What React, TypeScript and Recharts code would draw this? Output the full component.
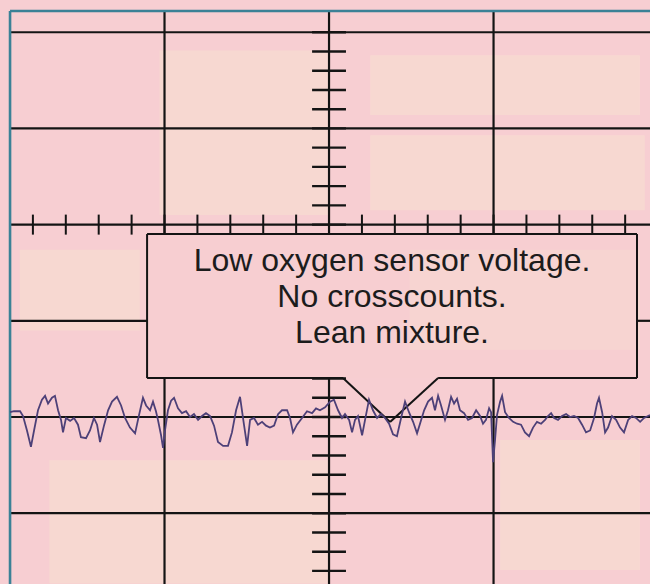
import { LineChart, Line, XAxis, YAxis, ReferenceLine, ReferenceArea } from 'recharts'

// scope trace, time in ms (100 per division), signal in mV (100 per division)
const time = [
  6.1, 8.5, 12.2, 14.0, 16.4, 18.8, 20.7, 23.1, 25.5, 27.4, 29.2, 31.6, 33.4, 35.3, 37.1, 38.3, 40.1, 42.6, 45.0, 47.4,
  49.2, 52.3, 54.7, 57.1, 59.0, 60.8, 63.2, 65.7, 68.1, 71.1, 73.6, 76.0, 79.0, 82.1, 84.5, 86.9, 88.8, 91.2, 93.0, 94.8,
  96.0, 97.9, 99.1, 100.3, 102.1, 104.0, 105.8, 108.2, 110.6, 113.1, 115.5, 117.9, 120.4, 122.8, 125.2, 127.7, 130.1, 132.5, 135.6, 138.6,
  141.0, 143.5, 145.9, 148.3, 150.2, 152.0, 154.4, 156.8, 159.3, 161.7, 164.1, 166.6, 169.0, 171.4, 174.5, 176.3, 178.1, 180.5, 183.6, 186.6,
  189.7, 192.1, 194.5, 197.6, 200.6, 203.0, 205.5, 207.9, 209.7, 212.2, 214.0, 215.8, 217.6, 220.1, 221.9, 224.3, 226.7, 229.2, 231.6, 234.0,
  236.5, 238.9, 241.3, 243.8, 246.2, 248.6, 251.1, 253.5, 255.3, 257.8, 260.2, 262.6, 264.4, 266.3, 268.1, 270.5, 272.3, 274.2, 276.0, 277.8,
  279.6, 282.1, 284.5, 286.9, 289.4, 291.8, 293.6, 295.4, 297.3, 298.5, 299.7, 300.9, 302.1, 304.0, 305.2, 307.0, 309.4, 311.9, 314.3, 316.7,
  319.1, 321.6, 324.0, 326.4, 328.9, 331.3, 333.1, 335.0, 336.8, 339.2, 341.6, 344.1, 346.5, 348.9, 351.4, 353.8, 356.2, 358.7, 361.1, 362.9,
  364.1, 366.0, 367.8, 369.6, 372.0, 374.5, 376.9, 379.3, 381.8, 384.2, 386.6, 389.1, 391.5, 393.9, 395.1,
]
const signal = [
  5, 6, 6, 1, -14, -31, -14, 7, 18, 22, 14, 20, 22, 7, -3, -16, -1, -4, -1, -8,
  -21, -22, -14, -1, -8, -26, -9, 7, 16, 21, 12, -1, -11, -17, 2, 20, 12, 7, 16, 6,
  -3, -19, -32, -14, 7, 17, 20, 9, 4, 6, 0, 3, -3, 1, 4, 1, -9, -26, -30, -30,
  -16, 7, 21, -8, -30, -3, -1, -8, -5, -9, -11, -9, 3, 7, 7, -1, -16, -8, -1, 6,
  4, 9, 7, 10, 16, 18, 7, -1, 3, -3, -16, -3, 1, -19, -3, 18, 7, -1, 3, -1,
  -7, -18, -20, -1, 16, 5, -5, -17, -7, 7, 16, 20, 7, 22, 12, -3, 7, 21, 14, 19,
  7, 4, -3, -1, 7, 1, -7, -3, 9, 5, -47, -24, 2, 16, 22, 5, -1, -5, -7, -8,
  -16, -20, -11, -5, -7, -3, 1, 4, -1, -3, 1, 3, 0, 1, -1, -8, -16, -14, -1, 14,
  20, 5, -16, -11, 1, -3, -11, -16, -3, 1, -1, -5, -1, 1, 2,
]

const gridTimes = [100, 200, 300]
const gridLevels = [-100, 0, 100, 200, 300, 400]
const minorTimes = [20, 40, 60, 80, 100, 120, 140, 160, 180, 200, 220, 240, 260, 280, 300, 320, 340, 360, 380]
const minorLevels = [-160, -140, -120, -100, -80, -60, -40, -20, 0, 20, 40, 60, 80, 100, 120, 140, 160, 180, 200, 220, 240, 260, 280, 300, 320, 340, 360, 380, 400]
const calloutLines = ['Low oxygen sensor voltage.', 'No crosscounts.', 'Lean mixture.']

const W = 650
const H = 584
const X_MAX = 395.1
const Y_MIN = -173.6
const Y_MAX = 433.5
const FRAME_LEFT = 6.1
const FRAME_TOP = 422
const CENTER_T = 200
const CENTER_V = 200
const TICK_DX = 10.3
const TICK_DY = 10.4

const box = { x1: 89.4, x2: 387.2, y1: 40.5, y2: 190.2 }
const pointer = { left: 208.5, tip: 237.1, right: 266.3, tipY: -5.2 }

const patches = [
  [97, 200, 210, 381],
  [225, 389, 314, 376],
  [225, 392, 215, 293],
  [12, 85, 90, 174],
  [249, 389, 70, 174],
  [30, 200, -173, -45],
  [304, 389, -159, -24],
]

const rows = time.map((t, i) => ({ t, v: signal[i] }))

const PINK = '#f7ced2'
const INK = '#141414'
const FRAME = '#3b8196'

const inBoxX = (t: number) => t > box.x1 && t < box.x2
const inBoxY = (v: number) => v > box.y1 && v < box.y2

function CalloutText({ viewBox }: any) {
  if (!viewBox) return null
  const cx = viewBox.x + viewBox.width / 2
  return (
    <text
      textAnchor="middle"
      fontFamily="'Liberation Sans', Arial, sans-serif"
      fontSize={32}
      fill="#1c1c1c"
    >
      {calloutLines.map((s, i) => (
        <tspan key={i} x={cx} y={viewBox.y + 37 + i * 36}>{s}</tspan>
      ))}
    </text>
  )
}

function seg(key: string, a: [number, number], b: [number, number], stroke = INK, w = 2.2) {
  return (
    <ReferenceLine
      key={key}
      segment={[{ x: a[0], y: a[1] }, { x: b[0], y: b[1] }]}
      stroke={stroke}
      strokeWidth={w}
      ifOverflow="visible"
    />
  )
}

export default function App() {
  const lines: any[] = []

  // vertical grid, broken by the callout box
  gridTimes.forEach(t => {
    if (inBoxX(t)) {
      lines.push(seg(`gv${t}a`, [t, FRAME_TOP], [t, box.y2]))
      lines.push(seg(`gv${t}b`, [t, box.y1], [t, Y_MIN]))
    } else {
      lines.push(seg(`gv${t}`, [t, FRAME_TOP], [t, Y_MIN]))
    }
  })
  // horizontal grid
  gridLevels.forEach(v => {
    if (inBoxY(v)) {
      lines.push(seg(`gh${v}a`, [FRAME_LEFT, v], [box.x1, v]))
      lines.push(seg(`gh${v}b`, [box.x2, v], [X_MAX, v]))
    } else {
      lines.push(seg(`gh${v}`, [FRAME_LEFT, v], [X_MAX, v]))
    }
  })
  // minor ticks on the centre cross
  minorLevels.filter(v => !inBoxY(v)).forEach(v => {
    lines.push(seg(`mv${v}`, [CENTER_T - TICK_DX, v], [CENTER_T + TICK_DX, v], INK, 2.4))
  })
  minorTimes.forEach(t => {
    lines.push(seg(`mt${t}`, [t, CENTER_V - TICK_DY], [t, CENTER_V + TICK_DY], INK, 2))
  })

  const callout = [
    seg('cTop', [box.x1, box.y2], [box.x2, box.y2], INK, 2),
    seg('cL', [box.x1, box.y2], [box.x1, box.y1], INK, 2),
    seg('cR', [box.x2, box.y2], [box.x2, box.y1], INK, 2),
    seg('cB1', [box.x1, box.y1], [pointer.left, box.y1], INK, 2),
    seg('cD1', [pointer.left, box.y1], [pointer.tip, pointer.tipY], INK, 2),
    seg('cD2', [pointer.tip, pointer.tipY], [pointer.right, box.y1], INK, 2),
    seg('cB2', [pointer.right, box.y1], [box.x2, box.y1], INK, 2),
  ]

  return (
    <div style={{ position: 'absolute', left: 0, top: 0, width: W, height: H, background: PINK, overflow: 'hidden' }}>
      <LineChart width={W} height={H} data={rows} margin={{ top: 0, right: 0, bottom: 0, left: 0 }}>
        <XAxis type="number" dataKey="t" domain={[0, X_MAX]} hide allowDataOverflow />
        <YAxis type="number" domain={[Y_MIN, Y_MAX]} hide allowDataOverflow />
        {patches.map(([x1, x2, y1, y2], i) => (
          <ReferenceArea key={`p${i}`} x1={x1} x2={x2} y1={y1} y2={y2} fill="#f7efcf" fillOpacity={0.3} stroke="none" ifOverflow="visible" />
        ))}
        {lines}
        {seg('frameTop', [FRAME_LEFT, FRAME_TOP], [X_MAX, FRAME_TOP], FRAME, 2.6)}
        {seg('frameLeft', [FRAME_LEFT, FRAME_TOP], [FRAME_LEFT, Y_MIN], FRAME, 2.6)}
        <ReferenceArea
          x1={box.x1} x2={box.x2} y1={box.y1} y2={box.y2}
          fill={PINK} fillOpacity={0.35} stroke="none"
          label={<CalloutText />}
        />
        {callout}
        <Line
          dataKey="v"
          type="linear"
          stroke="#4d4078"
          strokeWidth={1.8}
          dot={false}
          activeDot={false}
          isAnimationActive={false}
        />
      </LineChart>
    </div>
  )
}
